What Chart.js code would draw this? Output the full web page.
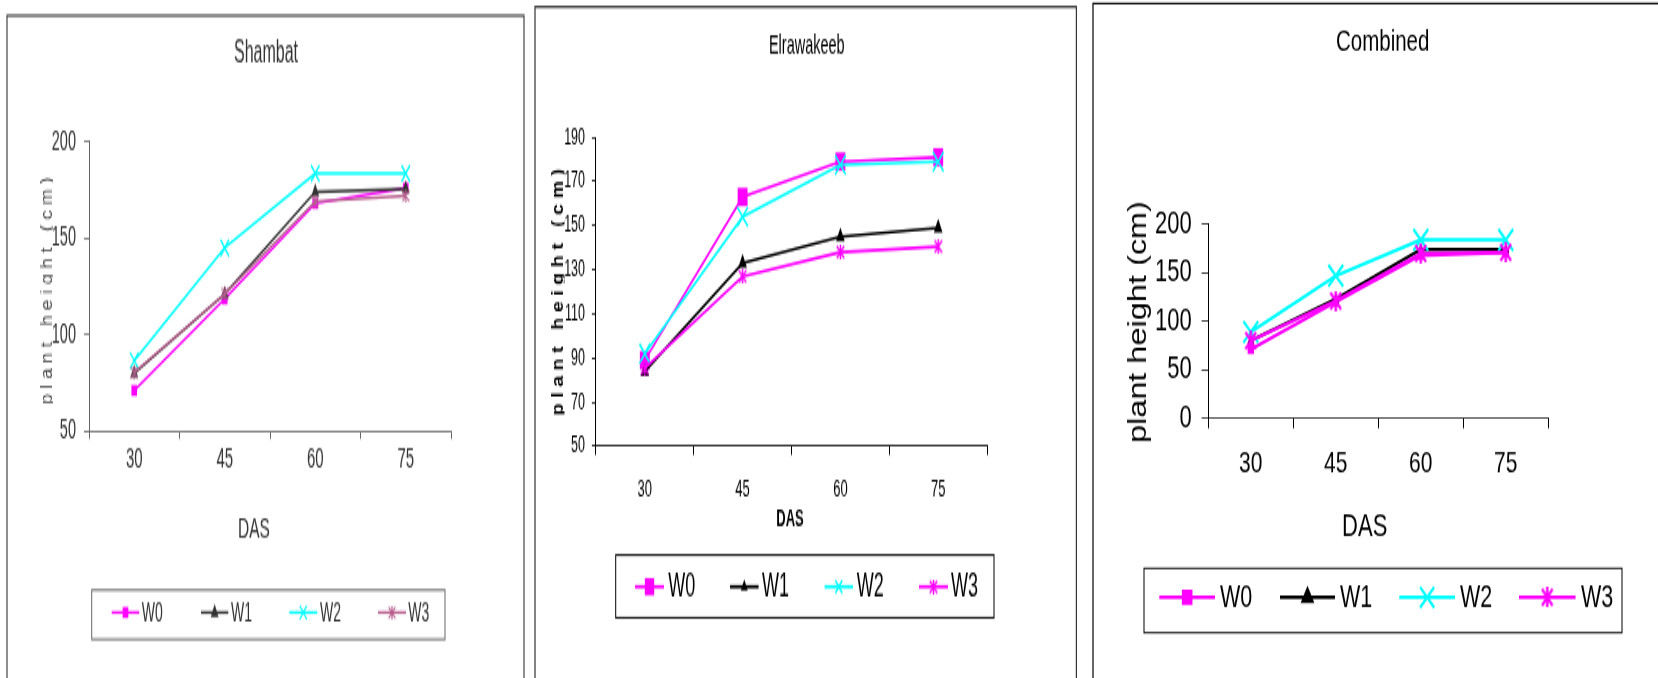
<!DOCTYPE html>
<html>
<head>
<meta charset="utf-8">
<script src="https://cdn.jsdelivr.net/npm/chart.js@4/dist/chart.umd.min.js"></script>
<style>
  html, body { margin: 0; padding: 0; background: #fff; width: 1658px; height: 678px; overflow: hidden; position: relative; }
  canvas { position: absolute; top: 0; transform-origin: 0 0; }
</style>
</head>
<body>
<canvas id="shambat"></canvas>
<canvas id="elrawakeeb"></canvas>
<canvas id="combined"></canvas>
<script>
// Days after sowing (x categories)
const days = ['30', '45', '60', '75'];
const seriesNames = ['W0', 'W1', 'W2', 'W3'];

// Plant height (cm) – Shambat
const shambatW0 = [71, 118.5, 168, 176];
const shambatW1 = [80, 121, 174, 175.5];
const shambatW2 = [86.5, 145, 183.5, 183.5];
const shambatW3 = [80.5, 121, 169, 172];

// Plant height (cm) – Elrawakeeb
const elrawakeebW0 = [89, 163, 179, 181];
const elrawakeebW1 = [84, 133, 145, 149];
const elrawakeebW2 = [92, 154, 177.5, 179];
const elrawakeebW3 = [85.5, 127, 138, 140.5];

// Plant height (cm) – both sites combined
const combinedW0 = [71, 120, 168, 171];
const combinedW1 = [80, 123, 174, 174];
const combinedW2 = [89, 147, 184, 184];
const combinedW3 = [80, 121, 170, 171];

const FONT = "'Liberation Sans', Arial, Helvetica, sans-serif";
Chart.defaults.font.family = FONT;
const PAGE_H = 678;

// Asterisk marker (an X crossed by a vertical bar)
function asterisk(color, w, h, lw) {
  const c = document.createElement('canvas');
  c.width = w; c.height = h;
  const g = c.getContext('2d');
  g.strokeStyle = color; g.lineWidth = lw;
  const p = lw / 2;
  g.beginPath();
  g.moveTo(p, p); g.lineTo(w - p, h - p);
  g.moveTo(w - p, p); g.lineTo(p, h - p);
  g.moveTo(w / 2, 0); g.lineTo(w / 2, h);
  g.stroke();
  return c;
}

function drawMarker(ctx, m, x, y, color) {
  ctx.save();
  ctx.fillStyle = color; ctx.strokeStyle = color; ctx.lineWidth = m.lw || 1;
  if (m.style === 'rect') {
    const a = m.r * Math.SQRT1_2;
    ctx.fillRect(x - a, y - a, 2 * a, 2 * a);
  } else if (m.style === 'triangle') {
    ctx.beginPath();
    ctx.moveTo(x, y - m.r);
    ctx.lineTo(x + m.r * 0.866, y + m.r * 0.5);
    ctx.lineTo(x - m.r * 0.866, y + m.r * 0.5);
    ctx.closePath(); ctx.fill();
  } else if (m.style === 'crossRot') {
    const a = m.r * Math.SQRT1_2;
    ctx.beginPath();
    ctx.moveTo(x - a, y - a); ctx.lineTo(x + a, y + a);
    ctx.moveTo(x - a, y + a); ctx.lineTo(x + a, y - a);
    ctx.stroke();
  } else if (m.style instanceof HTMLCanvasElement) {
    ctx.drawImage(m.style, x - m.style.width / 2, y - m.style.height / 2);
  }
  ctx.restore();
}

// Titles, frame and legend drawn on top of each chart.
// Vertical positions are given in page pixels and divided by the panel's stretch.
function decor(spec) {
  const k = spec.stretch;
  return {
    id: 'decor',
    afterDraw(chart) {
      const ctx = chart.ctx;
      ctx.save();
      // panel frame
      const f = spec.frame;
      ctx.strokeStyle = f.color; ctx.lineWidth = f.lw;
      ctx.strokeRect(f.x1, f.y1 / k, f.x2 - f.x1, spec.height + 20);
      // chart title and x axis title
      ctx.fillStyle = spec.ink;
      ctx.textAlign = 'center'; ctx.textBaseline = 'middle';
      ctx.font = spec.title.font + ' ' + FONT;
      ctx.fillText(spec.title.text, spec.title.x, spec.title.y / k);
      ctx.font = spec.xTitle.font + ' ' + FONT;
      ctx.fillText(spec.xTitle.text, spec.xTitle.x, spec.xTitle.y / k);
      // y axis title, rotated and fitted to its length
      const yt = spec.yTitle;
      ctx.save();
      ctx.font = yt.font + ' ' + FONT;
      const natural = ctx.measureText(yt.text).width;
      ctx.translate(yt.x, yt.y / k);
      ctx.rotate(-Math.PI / 2);
      ctx.scale((yt.len / k) / natural, 1);
      if (yt.clip !== null) {
        ctx.beginPath();
        ctx.rect(-natural, -200, natural * 2, 200 + yt.clip);
        ctx.clip();
      }
      ctx.fillStyle = yt.color;
      ctx.textAlign = 'center'; ctx.textBaseline = 'alphabetic';
      ctx.fillText(yt.text, 0, 0);
      ctx.restore();
      // legend
      const lg = spec.legend;
      const cy = lg.cy / k;
      ctx.strokeStyle = lg.boxColor; ctx.lineWidth = lg.boxLw;
      ctx.strokeRect(lg.box[0], lg.box[1] / k, lg.box[2] - lg.box[0], (lg.box[3] - lg.box[1]) / k);
      ctx.font = lg.font + ' ' + FONT;
      ctx.textAlign = 'left'; ctx.textBaseline = 'middle';
      chart.data.datasets.forEach((ds, i) => {
        const [x1, x2] = lg.lines[i];
        ctx.strokeStyle = ds.borderColor; ctx.lineWidth = lg.lineLw;
        ctx.beginPath(); ctx.moveTo(x1, cy); ctx.lineTo(x2, cy); ctx.stroke();
        drawMarker(ctx, lg.markers[i], (x1 + x2) / 2, cy, ds.borderColor);
        ctx.fillStyle = spec.ink;
        ctx.fillText(ds.label, lg.text[i], cy + 0.5);
      });
      ctx.restore();
    }
  };
}

function makePanel(id, spec, values, styles) {
  const height = Math.round(PAGE_H / spec.stretchGuess);
  spec.height = height;
  spec.stretch = PAGE_H / height;
  const k = spec.stretch;
  const canvas = document.getElementById(id);
  canvas.width = spec.width; canvas.height = height;
  canvas.style.left = spec.left + 'px';
  canvas.style.width = spec.width + 'px';
  canvas.style.height = height + 'px';
  canvas.style.transform = 'scaleY(' + k + ')';
  const a = spec.area;
  const top = a.T / k, bottom = a.B / k;
  const xtl = spec.xTicks.tl / k;
  const xpad = (spec.xTicks.center - a.B) / k - xtl - 0.6 * spec.xTicks.size;
  const datasets = values.map((data, i) => {
    const st = styles[i];
    return {
      label: seriesNames[i],
      data: data,
      borderColor: st.color,
      backgroundColor: st.color,
      borderWidth: spec.lineLw,
      tension: 0,
      pointStyle: st.style,
      pointRadius: st.r,
      pointHoverRadius: st.r,
      pointBackgroundColor: st.color,
      pointBorderColor: st.color,
      pointBorderWidth: st.lw,
      order: 3 - i,
      clip: false
    };
  });
  new Chart(canvas, {
    type: 'line',
    data: { labels: days, datasets: datasets },
    options: {
      responsive: false,
      animation: false,
      devicePixelRatio: 1,
      events: [],
      layout: { padding: { left: 0, top: top, right: spec.width - a.R, bottom: 0 } },
      plugins: { legend: { display: false }, title: { display: false }, tooltip: { enabled: false } },
      scales: {
        x: {
          type: 'category',
          offset: true,
          afterFit(s) { s.height = height - bottom; },
          grid: { display: true, drawOnChartArea: false, drawTicks: true, offset: true,
                  tickLength: xtl, tickColor: spec.axis, tickWidth: 1 },
          border: { display: true, color: spec.axis, width: spec.axisLw },
          ticks: { color: spec.ink, font: { size: spec.xTicks.size }, padding: xpad,
                   maxRotation: 0, autoSkip: false }
        },
        y: {
          type: 'linear',
          min: spec.min, max: spec.max,
          afterFit(s) { s.width = a.L; },
          grid: { display: true, drawOnChartArea: false, drawTicks: true,
                  tickLength: spec.yTicks.tl, tickColor: spec.axis, tickWidth: spec.axisLw },
          border: { display: true, color: spec.axis, width: 1 },
          ticks: { color: spec.ink, font: { size: spec.yTicks.size }, padding: spec.yTicks.pad,
                   stepSize: spec.step }
        }
      }
    },
    plugins: [decor(spec)]
  });
}

// ---- Shambat ----
const starShambat = asterisk('#b8608f', 8, 7, 1.2);
makePanel('shambat', {
  left: 0, width: 530, stretchGuess: 1.95,
  area: { L: 89, R: 451, T: 141.7, B: 431 },
  min: 50, max: 200, step: 50,
  ink: '#333', axis: '#666', axisLw: 0.8, lineLw: 1.4,
  frame: { x1: 7, y1: 15.6, x2: 524, color: '#444', lw: 1.2 },
  xTicks: { size: 15, tl: 8, center: 460 },
  yTicks: { size: 14.5, tl: 5, pad: 8 },
  title: { text: 'Shambat', x: 266, y: 54.3, font: '16px' },
  xTitle: { text: 'DAS', x: 254, y: 528.7, font: '15.5px' },
  yTitle: { text: 'p l a n t   h e i g h t   ( c m )', x: 52, y: 291, len: 227, font: '16px', clip: 1, color: '#444' },
  legend: {
    box: [91.7, 590, 445, 639.3], cy: 612.5, boxColor: '#666', boxLw: 1, lineLw: 1.4,
    lines: [[111.7, 139.3], [201, 228.3], [289.3, 317.3], [378, 406]],
    text: [141.7, 231, 320, 408.3], font: '14px',
    markers: [{ style: 'rect', r: 4 }, { style: 'triangle', r: 4.5 }, { style: 'crossRot', r: 5, lw: 1.2 }, { style: starShambat }]
  }
}, [shambatW0, shambatW1, shambatW2, shambatW3], [
  { color: '#ff00ff', style: 'rect', r: 4, lw: 0 },
  { color: '#333333', style: 'triangle', r: 4.5, lw: 0 },
  { color: '#00ffff', style: 'crossRot', r: 6, lw: 1.3 },
  { color: '#b8608f', style: starShambat, r: 4, lw: 0 }
]);

// ---- Elrawakeeb ----
const starElra = asterisk('#ff00ff', 9, 8, 1.5);
makePanel('elrawakeeb', {
  left: 530, width: 560, stretchGuess: 1.85,
  area: { L: 65.9, R: 457.1, T: 137.3, B: 446.4 },
  min: 50, max: 190, step: 20,
  ink: '#000', axis: '#000', axisLw: 0.8, lineLw: 1.6,
  frame: { x1: 5, y1: 6.9, x2: 546.4, color: '#333', lw: 1.2 },
  xTicks: { size: 13, tl: 8.6, center: 490.5 },
  yTicks: { size: 12.5, tl: 4, pad: 6.9 },
  title: { text: 'Elrawakeeb', x: 276.8, y: 46.5, font: '14.5px' },
  xTitle: { text: 'DAS', x: 260, y: 518.7, font: 'bold 13px' },
  yTitle: { text: 'p l a n t   h e i g h t   ( c m )', x: 33, y: 292, len: 246.5, font: 'bold 17px', clip: 1.5, color: '#000' },
  legend: {
    box: [85.7, 555, 464, 617.7], cy: 586.7, boxColor: '#000', boxLw: 1, lineLw: 1.8,
    lines: [[105, 134], [200, 228.6], [294.6, 323], [389, 418]],
    text: [138.3, 232, 326.8, 421], font: '18px',
    markers: [{ style: 'rect', r: 6.6 }, { style: 'triangle', r: 4 }, { style: 'crossRot', r: 5, lw: 1.4 }, { style: starElra }]
  }
}, [elrawakeebW0, elrawakeebW1, elrawakeebW2, elrawakeebW3], [
  { color: '#ff00ff', style: 'rect', r: 7, lw: 0 },
  { color: '#000000', style: 'triangle', r: 5, lw: 0 },
  { color: '#00ffff', style: 'crossRot', r: 7.5, lw: 1.5 },
  { color: '#ff00ff', style: starElra, r: 5, lw: 0 }
]);

// ---- Combined ----
const starComb = asterisk('#ff00ff', 13, 14, 2.4);
makePanel('combined', {
  left: 1090, width: 568, stretchGuess: 1.45,
  area: { L: 118.3, R: 458.3, T: 224.3, B: 418.3 },
  min: 0, max: 200, step: 50,
  ink: '#000', axis: '#000', axisLw: 0.8, lineLw: 2.4,
  frame: { x1: 3, y1: 3.5, x2: 590, color: '#000', lw: 1.2 },
  xTicks: { size: 21, tl: 10, center: 464.3 },
  yTicks: { size: 22, tl: 6.7, pad: 9.9 },
  title: { text: 'Combined', x: 292.7, y: 43, font: '20.5px' },
  xTitle: { text: 'DAS', x: 274.7, y: 526.7, font: '22px' },
  yTitle: { text: 'plant height (cm)', x: 56, y: 322, len: 242, font: '26px', clip: null, color: '#000' },
  legend: {
    box: [54, 568.3, 532, 632.7], cy: 597.3, boxColor: '#000', boxLw: 1, lineLw: 2.4,
    lines: [[69.3, 125], [190, 245], [309.3, 365], [429, 485.5]],
    text: [130, 250, 370, 491], font: '21.5px',
    markers: [{ style: 'rect', r: 7.5 }, { style: 'triangle', r: 8 }, { style: 'crossRot', r: 10, lw: 2.2 }, { style: starComb }]
  }
}, [combinedW0, combinedW1, combinedW2, combinedW3], [
  { color: '#ff00ff', style: 'rect', r: 4.5, lw: 0 },
  { color: '#000000', style: 'triangle', r: 4, lw: 0 },
  { color: '#00ffff', style: 'crossRot', r: 10.5, lw: 2.2 },
  { color: '#ff00ff', style: starComb, r: 7, lw: 0 }
]);
</script>
</body>
</html>
